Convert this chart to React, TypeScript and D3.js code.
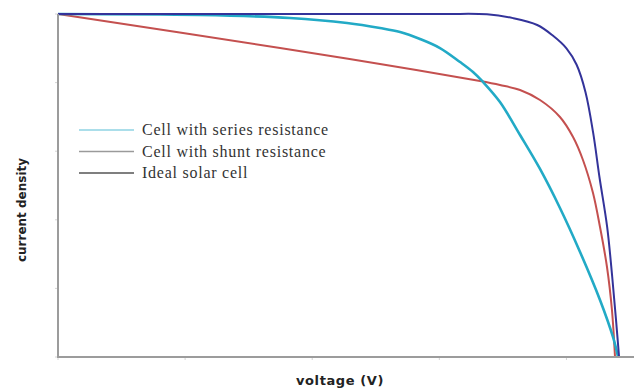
import { useEffect, useRef } from "react";
import * as d3 from "d3";

// voltage / current density
const idealCell = [
  { v: 0, j: 5.0 }, { v: 3.0, j: 5.0 }, { v: 3.375, j: 4.995 }, { v: 3.58, j: 4.94 },
  { v: 3.77, j: 4.84 }, { v: 3.89, j: 4.69 }, { v: 4.0, j: 4.5 }, { v: 4.08, j: 4.26 },
  { v: 4.15, j: 3.86 }, { v: 4.21, j: 3.27 }, { v: 4.26, j: 2.62 }, { v: 4.32, j: 1.9 },
  { v: 4.36, j: 1.17 }, { v: 4.39, j: 0.54 }, { v: 4.414, j: 0 },
];

const shuntCell = [
  { v: 0, j: 5.0 }, { v: 1.747, j: 4.504 }, { v: 2.533, j: 4.271 }, { v: 3.32, j: 4.023 },
  { v: 3.477, j: 3.965 }, { v: 3.635, j: 3.892 }, { v: 3.792, j: 3.746 }, { v: 3.949, j: 3.499 },
  { v: 4.052, j: 3.207 }, { v: 4.13, j: 2.872 }, { v: 4.209, j: 2.391 }, { v: 4.264, j: 1.895 },
  { v: 4.319, j: 1.312 }, { v: 4.358, j: 0.685 }, { v: 4.382, j: 0 },
];

const seriesCell = [
  { v: 0, j: 5.0 }, { v: 1.117, j: 4.985 }, { v: 1.825, j: 4.942 }, { v: 2.274, j: 4.869 },
  { v: 2.533, j: 4.796 }, { v: 2.691, j: 4.738 }, { v: 2.848, j: 4.636 }, { v: 3.005, j: 4.504 },
  { v: 3.163, j: 4.3 }, { v: 3.265, j: 4.155 }, { v: 3.344, j: 4.009 }, { v: 3.477, j: 3.717 },
  { v: 3.635, j: 3.236 }, { v: 3.792, j: 2.741 }, { v: 3.949, j: 2.172 }, { v: 4.107, j: 1.531 },
  { v: 4.264, j: 0.831 }, { v: 4.366, j: 0.292 }, { v: 4.406, j: 0 },
];

const legendItems = [
  { label: "Cell with series resistance", color: "#8fd3e3" },
  { label: "Cell with shunt resistance", color: "#9a9a9a" },
  { label: "Ideal solar cell", color: "#555555" },
];

const xTicks = [0, 1, 2, 3, 4];
const yTicks = [0, 1, 2, 3, 4, 5];

export default function App() {
  const svgRef = useRef<SVGSVGElement>(null);

  useEffect(() => {
    if (!svgRef.current) return;
    const width = 634;
    const height = 391;
    const margin = { top: 14, right: 4, bottom: 34, left: 58 };

    const svg = d3.select(svgRef.current).attr("width", width).attr("height", height);
    svg.selectAll("*").remove();

    const x = d3.scaleLinear().domain([0, 4.5]).range([margin.left, 630]);
    const y = d3.scaleLinear().domain([0, 5]).range([height - margin.bottom, margin.top]);

    // faint ticks
    svg
      .append("g")
      .selectAll("line")
      .data(yTicks)
      .join("line")
      .attr("x1", x(0) - 3)
      .attr("x2", x(0))
      .attr("y1", (d) => y(d))
      .attr("y2", (d) => y(d))
      .attr("stroke", "#d4d4d4");

    svg
      .append("g")
      .selectAll("line")
      .data(xTicks)
      .join("line")
      .attr("x1", (d) => x(d))
      .attr("x2", (d) => x(d))
      .attr("y1", y(0))
      .attr("y2", y(0) + 3)
      .attr("stroke", "#d4d4d4");

    const line = d3
      .line<{ v: number; j: number }>()
      .x((d) => x(d.v))
      .y((d) => y(d.j))
      .curve(d3.curveCatmullRom.alpha(0.5));

    const curves = [
      { data: shuntCell, color: "#c4504f", w: 2 },
      { data: seriesCell, color: "#22aac6", w: 2.6 },
      { data: idealCell, color: "#33339a", w: 2 },
    ];
    curves.forEach((c) => {
      svg
        .append("path")
        .datum(c.data)
        .attr("fill", "none")
        .attr("stroke", c.color)
        .attr("stroke-width", c.w)
        .attr("d", line);
    });

    // axes
    svg
      .append("line")
      .attr("x1", x(0))
      .attr("x2", x(0))
      .attr("y1", y(5))
      .attr("y2", y(0))
      .attr("stroke", "#9c9c9c")
      .attr("stroke-width", 2);
    svg
      .append("line")
      .attr("x1", x(0) - 1)
      .attr("x2", width)
      .attr("y1", y(0))
      .attr("y2", y(0))
      .attr("stroke", "#9c9c9c")
      .attr("stroke-width", 2);

    // legend
    const lg = svg.append("g").attr("transform", "translate(79,130)");
    legendItems.forEach((d, i) => {
      lg.append("line")
        .attr("x1", 0)
        .attr("x2", 55)
        .attr("y1", i * 21.5)
        .attr("y2", i * 21.5)
        .attr("stroke", d.color)
        .attr("stroke-width", 1.5);
      lg.append("text")
        .attr("x", 63)
        .attr("y", i * 21.5 + 5)
        .attr("font-family", "'Liberation Serif', 'DejaVu Serif', serif")
        .attr("font-size", 16)
        .attr("letter-spacing", 0.75)
        .attr("fill", "#333")
        .text(d.label);
    });

    svg
      .append("text")
      .attr("x", 340)
      .attr("y", 385)
      .attr("text-anchor", "middle")
      .attr("font-family", "'DejaVu Sans', sans-serif")
      .attr("font-weight", 700)
      .attr("font-size", 13)
      .attr("letter-spacing", 0.6)
      .attr("fill", "#222")
      .text("voltage (V)");

    svg
      .append("text")
      .attr("transform", "translate(26,210) rotate(-90)")
      .attr("text-anchor", "middle")
      .attr("font-family", "'DejaVu Sans', sans-serif")
      .attr("font-weight", 700)
      .attr("font-size", 12)
      .attr("fill", "#222")
      .text("current density");
  }, []);

  return (
    <svg
      ref={svgRef}
      style={{ position: "absolute", left: 0, top: 0, background: "#fff" }}
    />
  );
}
